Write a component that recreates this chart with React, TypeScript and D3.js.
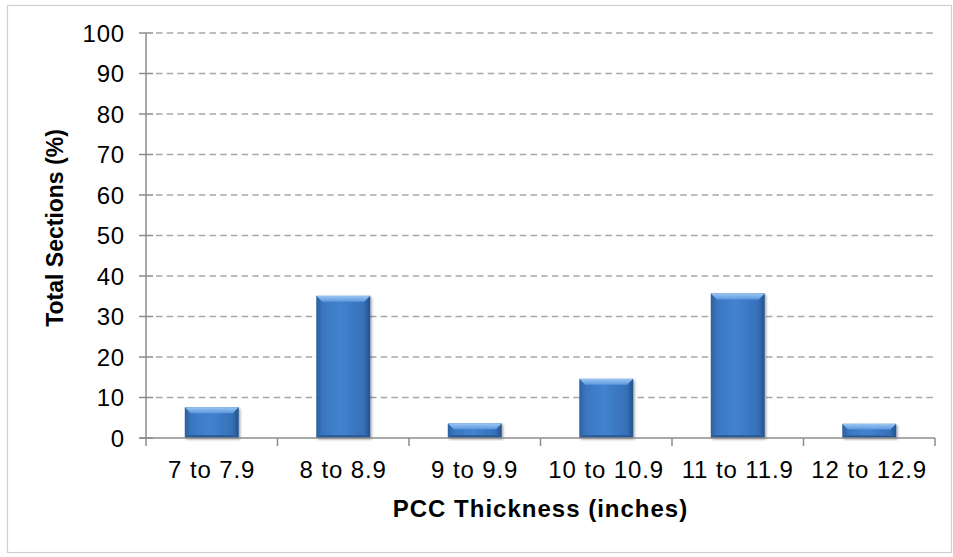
import React from "react";
import * as d3 from "d3";

const categories = ["7 to 7.9", "8 to 8.9", "9 to 9.9", "10 to 10.9", "11 to 11.9", "12 to 12.9"];
const values = [7.6, 35.1, 3.6, 14.6, 35.7, 3.5];
const yTicks = [0, 10, 20, 30, 40, 50, 60, 70, 80, 90, 100];
const xTitle = "PCC Thickness (inches)";
const yTitle = "Total Sections (%)";

const W = 953;
const H = 557;
const left = 146;
const right = 935;
const top = 33;
const bottom = 438;
const FONT = "'Liberation Sans', Arial, sans-serif";

export default function App() {
  const x = d3.scaleBand<string>().domain(categories).range([left, right]).padding(0);
  const y = d3.scaleLinear().domain([0, 100]).range([bottom, top]);
  const barW = x.bandwidth() * 0.41;
  const bev = 6;

  return (
    <svg width={W} height={H} style={{ position: "absolute", left: 0, top: 0, background: "#fff" }}>
      <defs>
        <linearGradient id="barBody" x1="0" x2="1" y1="0" y2="0">
          <stop offset="0" stopColor="#2c5f9f" />
          <stop offset="0.12" stopColor="#3a76c0" />
          <stop offset="0.45" stopColor="#4283d0" />
          <stop offset="0.88" stopColor="#3670b8" />
          <stop offset="1" stopColor="#24528c" />
        </linearGradient>
        <linearGradient id="barTop" x1="0" x2="0" y1="0" y2="1">
          <stop offset="0" stopColor="#9cc6f2" />
          <stop offset="1" stopColor="#5a98df" />
        </linearGradient>
        <linearGradient id="barBottom" x1="0" x2="0" y1="0" y2="1">
          <stop offset="0" stopColor="#2f66a9" />
          <stop offset="1" stopColor="#1f4a80" />
        </linearGradient>
        <filter id="shadow" x="-20%" y="-20%" width="140%" height="140%">
          <feDropShadow dx="1.5" dy="1.5" stdDeviation="1.2" floodColor="#000" floodOpacity="0.35" />
        </filter>
      </defs>
      <rect x={7.5} y={5.5} width={944} height={547} fill="#fff" stroke="#cfcfcf" strokeWidth={1.2} />

      {yTicks.filter((t) => t > 0).map((t) => (
        <line key={"g" + t} x1={left + 10} x2={right} y1={y(t)} y2={y(t)} stroke="#a8a8a8" strokeWidth={1.6} strokeDasharray="6.5,4.2" />
      ))}

      {values.map((v, i) => {
        const cx = (x(categories[i]) as number) + x.bandwidth() / 2;
        const x0 = cx - barW / 2;
        const y0 = y(v);
        const h = y(0) - y0;
        const b = Math.min(bev, h / 2.5);
        return (
          <g key={categories[i]} filter="url(#shadow)">
            <rect x={x0} y={y0} width={barW} height={h} fill="url(#barBody)" />
            <polygon
              points={`${x0},${y0} ${x0 + barW},${y0} ${x0 + barW - b},${y0 + b} ${x0 + b},${y0 + b}`}
              fill="url(#barTop)"
            />
            <polygon
              points={`${x0},${y0 + h} ${x0 + barW},${y0 + h} ${x0 + barW - b * 0.5},${y0 + h - b * 0.5} ${x0 + b * 0.5},${y0 + h - b * 0.5}`}
              fill="url(#barBottom)"
            />
          </g>
        );
      })}

      {/* axes */}
      <line x1={left} x2={left} y1={top} y2={bottom} stroke="#8c8c8c" strokeWidth={1.5} />
      <line x1={left - 6} x2={right} y1={bottom} y2={bottom} stroke="#8c8c8c" strokeWidth={1.5} />
      {yTicks.map((t) => (
        <g key={"t" + t}>
          <line x1={left - 7} x2={left + 7} y1={y(t)} y2={y(t)} stroke="#8c8c8c" strokeWidth={1.5} />
          <text x={left - 21} y={y(t)} dy="0.36em" textAnchor="end" fontFamily={FONT} fontSize={24} letterSpacing={0.8} fill="#000">
            {t}
          </text>
        </g>
      ))}
      {[...categories.map((c) => x(c) as number), right].map((px, i) => (
        <line key={"xt" + i} x1={px} x2={px} y1={bottom} y2={bottom + 8} stroke="#8c8c8c" strokeWidth={1.5} />
      ))}
      {categories.map((c) => (
        <text key={"xl" + c} x={(x(c) as number) + x.bandwidth() / 2} y={478} textAnchor="middle" fontFamily={FONT} fontSize={24} letterSpacing={0.9} fill="#000">
          {c}
        </text>
      ))}
      <text x={(left + right) / 2} y={517} textAnchor="middle" fontFamily={FONT} fontSize={24} fontWeight="bold" letterSpacing={1} fill="#000">
        {xTitle}
      </text>
      <text
        transform={`translate(63, 228) rotate(-90)`}
        textAnchor="middle"
        fontFamily={FONT}
        fontSize={23}
        fontWeight="bold"
        letterSpacing={0}
        fill="#000"
      >
        {yTitle}
      </text>
    </svg>
  );
}
